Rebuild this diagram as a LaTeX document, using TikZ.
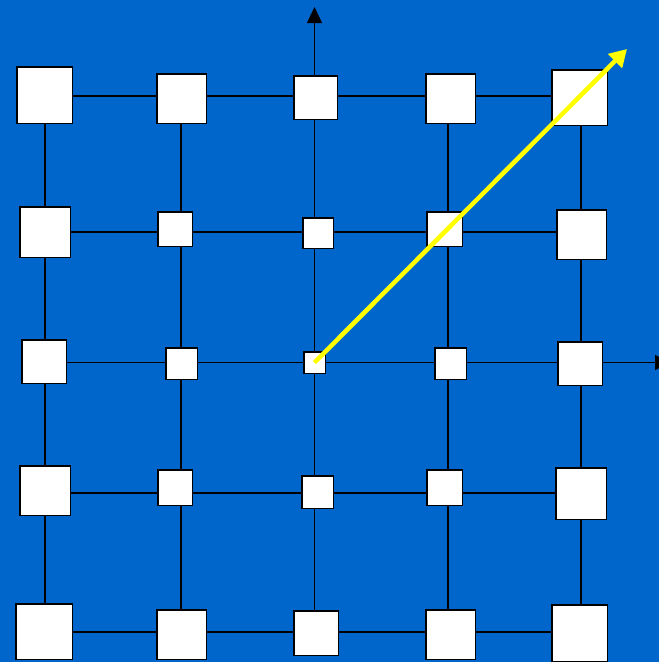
\documentclass[tikz,border=0pt]{standalone}
\usetikzlibrary{arrows.meta}
\definecolor{bgblue}{RGB}{0,102,204}
\definecolor{arrowyellow}{RGB}{255,255,0}
\newcommand\mkbox[5]{\node[cell, minimum width=#4pt-1.5pt, minimum height=#5pt-1.5pt] (#1) at (#2,#3) {};}
\begin{document}
\begin{tikzpicture}[x=1pt,y=-1pt,
  cell/.style={draw=black, fill=white, line width=1.5pt, inner sep=0pt, outer sep=0pt},
  gridline/.style={draw=black, line width=1.4pt},
  axis/.style={gridline, -{Triangle[length=16pt,width=15pt]}},
  vec/.style={draw=arrowyellow, line width=4.5pt, -{Triangle[length=17pt,width=19pt]}}]
\useasboundingbox (0,0) rectangle (659,662);
\clip (0,0) rectangle (659,662);
\fill[bgblue] (0,0) rectangle (659,662);
% grid line positions
\foreach \x [count=\j] in {45,181,314.5,448,581}
  \foreach \y [count=\i] in {96,232,362.5,493,632}
    \coordinate (g\i\j) at (\x,\y);
\coordinate (ytop) at (314.5,7);
\coordinate (xend) at (671,362.5);
\coordinate (vtip) at (627,49);
% boxes
\mkbox{b11}{44.5}{95}{57}{58}
\mkbox{b12}{181.5}{98.5}{51}{51}
\mkbox{b13}{315.5}{97.5}{45}{45}
\mkbox{b14}{450.5}{98.5}{51}{51}
\mkbox{b15}{579.5}{97.5}{57}{57}
\mkbox{b21}{45}{232}{52}{52}
\mkbox{b22}{175}{229}{36}{36}
\mkbox{b23}{318}{233}{32}{32}
\mkbox{b24}{444.5}{229}{37}{36}
\mkbox{b25}{581.5}{234.5}{51}{51}
\mkbox{b31}{44}{361.5}{46}{45}
\mkbox{b32}{181.5}{363.5}{33}{33}
\mkbox{b33}{314.5}{362.5}{23}{23}
\mkbox{b34}{450.5}{363.5}{33}{33}
\mkbox{b35}{580}{363.5}{46}{45}
\mkbox{b41}{45}{490.5}{52}{51}
\mkbox{b42}{175}{487.5}{36}{37}
\mkbox{b43}{317.5}{492}{33}{34}
\mkbox{b44}{444.5}{487.5}{37}{37}
\mkbox{b45}{581}{493.5}{52}{53}
\mkbox{b51}{44}{631.5}{58}{57}
\mkbox{b52}{181.5}{634.5}{51}{51}
\mkbox{b53}{316}{633}{46}{46}
\mkbox{b54}{450.5}{634.5}{51}{51}
\mkbox{b55}{579.5}{633}{57}{58}
% horizontal connectors
\foreach \i in {1,...,5}
  \foreach \j in {1,...,4}{
    \pgfmathtruncatemacro\jn{\j+1}
    \draw[gridline] (b\i\j.east |- g\i\j) -- (b\i\jn.west |- g\i\j);
  }
% vertical connectors
\foreach \j in {1,...,5}
  \foreach \i in {1,...,4}{
    \pgfmathtruncatemacro\in{\i+1}
    \draw[gridline] (b\i\j.south -| g\i\j) -- (b\in\j.north -| g\i\j);
  }
% axes
\draw[axis] (b13.north -| g13) -- (ytop);
\draw[axis] (b35.east |- g35) -- (xend);
% yellow vector
\draw[vec] (b33.center) -- (vtip);
\end{tikzpicture}
\end{document}
